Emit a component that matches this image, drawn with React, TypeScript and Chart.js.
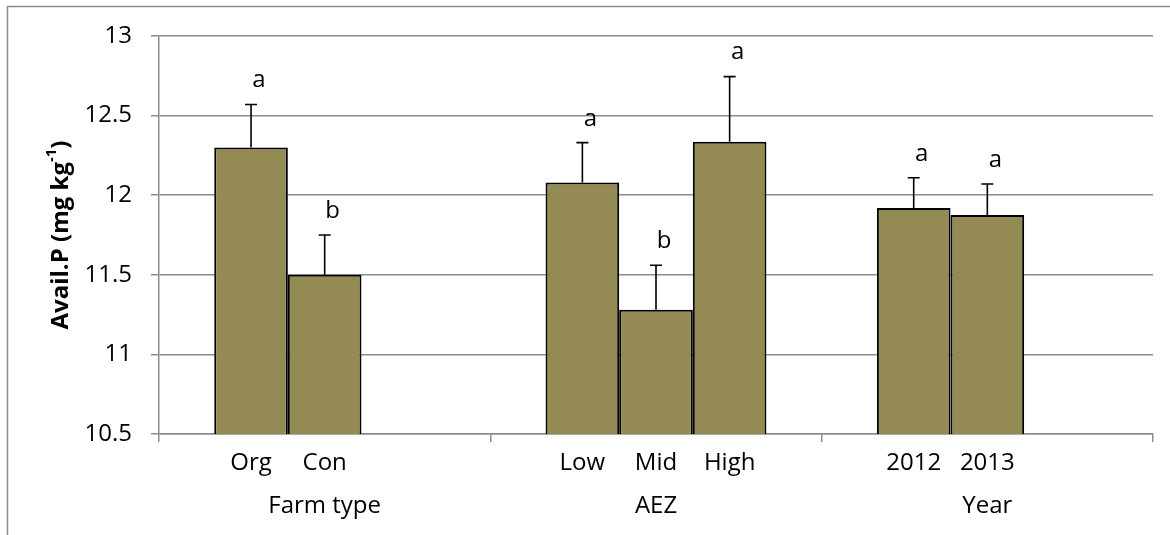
import React, { useEffect, useRef } from "react";
import { Chart, registerables } from "chart.js";

Chart.register(...registerables);

// Group (category) labels
const groups = ["Farm type", "AEZ", "Year"];

// Three bar slots per group; null = empty slot
const seriesA = [12.3, 12.08, 11.92];
const seriesB = [11.5, 11.28, 11.875];
const seriesC = [null, 12.335, null];

// Upward standard-error lengths
const errA = [0.27, 0.25, 0.19];
const errB = [0.25, 0.28, 0.195];
const errC = [null, 0.41, null];

// Significance letters
const lettersA = ["a", "a", "a"];
const lettersB = ["b", "b", "a"];
const lettersC = [null, "a", null];

// Level labels under each bar
const levelsA = ["Org", "Low", "2012"];
const levelsB = ["Con", "Mid", "2013"];
const levelsC = [null, "High", null];

// Y axis ticks
const yMin = 10.5;
const yMax = 13;
const yStep = 0.5;

const FONT = "'Open Sans', sans-serif";
const GRID = "#8c8c8c";
const BAR = "#948A54";

const errs = [errA, errB, errC];
const letters = [lettersA, lettersB, lettersC];
const levels = [levelsA, levelsB, levelsC];

const annotPlugin = {
  id: "annot",
  beforeDraw(chart: any) {
    const ctx = chart.ctx;
    ctx.save();
    ctx.strokeStyle = GRID;
    ctx.lineWidth = 1.5;
    ctx.beginPath();
    ctx.moveTo(7.5, chart.height);
    ctx.lineTo(7.5, 6.5);
    ctx.lineTo(chart.width, 6.5);
    ctx.stroke();
    ctx.restore();
  },
  afterDatasetsDraw(chart: any) {
    const ctx = chart.ctx;
    const ys = chart.scales.y;
    const area = chart.chartArea;
    ctx.save();
    chart.data.datasets.forEach((ds: any, i: number) => {
      const meta = chart.getDatasetMeta(i);
      meta.data.forEach((el: any, j: number) => {
        const v = ds.data[j];
        if (v === null || v === undefined) return;
        const e = errs[i][j];
        const x = el.x;
        const yErr = ys.getPixelForValue(v + (e || 0));
        if (e) {
          ctx.strokeStyle = "#000";
          ctx.lineWidth = 1.6;
          ctx.beginPath();
          ctx.moveTo(x, el.y);
          ctx.lineTo(x, yErr);
          ctx.moveTo(x - 6, yErr);
          ctx.lineTo(x + 6, yErr);
          ctx.stroke();
        }
        ctx.fillStyle = "#000";
        ctx.textAlign = "center";
        ctx.textBaseline = "middle";
        ctx.font = `24px ${FONT}`;
        const lt = letters[i][j];
        if (lt) ctx.fillText(lt, x + 8, yErr - 24);
        const lv = levels[i][j];
        if (lv) ctx.fillText(lv, x, area.bottom + 29);
      });
    });
    ctx.restore();
  },
  afterDraw(chart: any) {
    const ctx = chart.ctx;
    const area = chart.chartArea;
    const cy = (area.top + area.bottom) / 2;
    const main = "Avail.P (mg kg";
    const sup = "-1";
    const close = ")";
    ctx.save();
    ctx.translate(61, cy);
    ctx.rotate(-Math.PI / 2);
    ctx.fillStyle = "#000";
    ctx.textBaseline = "middle";
    ctx.textAlign = "left";
    const fMain = `bold 24px ${FONT}`;
    const fSup = `bold 15px ${FONT}`;
    ctx.font = fMain;
    const w1 = ctx.measureText(main).width;
    const w3 = ctx.measureText(close).width;
    ctx.font = fSup;
    const w2 = ctx.measureText(sup).width;
    const total = w1 + w2 + w3;
    let x = -total / 2;
    ctx.font = fMain;
    ctx.fillText(main, x, 0);
    x += w1;
    ctx.font = fSup;
    ctx.fillText(sup, x, -9);
    x += w2;
    ctx.font = fMain;
    ctx.fillText(close, x, 0);
    ctx.restore();
  },
};

export default function App() {
  const ref = useRef<HTMLCanvasElement | null>(null);
  useEffect(() => {
    if (!ref.current) return;
    const mk = (data: any[]) => ({
      data,
      backgroundColor: BAR,
      borderColor: "#000",
      borderWidth: 2,
      borderSkipped: false,
      categoryPercentage: 2 / 3,
      barPercentage: 1,
    });
    const chart = new Chart(ref.current, {
      type: "bar",
      data: {
        labels: groups,
        datasets: [mk(seriesA), mk(seriesB), mk(seriesC)],
      },
      options: {
        responsive: false,
        animation: false,
        devicePixelRatio: 1,
        layout: { padding: { left: 0, top: 36, right: 17, bottom: 0 }, autoPadding: false },
        plugins: { legend: { display: false }, tooltip: { enabled: false } },
        scales: {
          x: {
            afterFit: (s: any) => {
              s.height = 101;
            },
            grid: {
              display: true,
              offset: true,
              drawOnChartArea: false,
              drawTicks: true,
              tickLength: 8,
              color: GRID,
              lineWidth: 1.5,
            },
            border: { display: true, color: GRID, width: 1.5 },
            ticks: {
              color: "#000",
              font: { family: FONT, size: 24 },
              padding: 50,
              maxRotation: 0,
              autoSkip: false,
            },
          },
          y: {
            min: yMin,
            max: yMax,
            afterFit: (s: any) => {
              s.width = 159;
            },
            ticks: {
              stepSize: yStep,
              color: "#000",
              font: { family: FONT, size: 24 },
              padding: 19,
              callback: (v: any) => String(Number(v)),
            },
            grid: {
              color: GRID,
              lineWidth: 1.5,
              tickLength: 8,
              drawTicks: true,
            },
            border: { display: true, color: GRID, width: 1.5 },
          },
        },
      },
      plugins: [annotPlugin],
    });
    return () => chart.destroy();
  }, []);
  return (
    <div style={{ position: "absolute", left: 0, top: 0, width: 1170, height: 535, background: "#fff" }}>
      <canvas ref={ref} width={1170} height={535} style={{ width: 1170, height: 535, display: "block" }} />
    </div>
  );
}
